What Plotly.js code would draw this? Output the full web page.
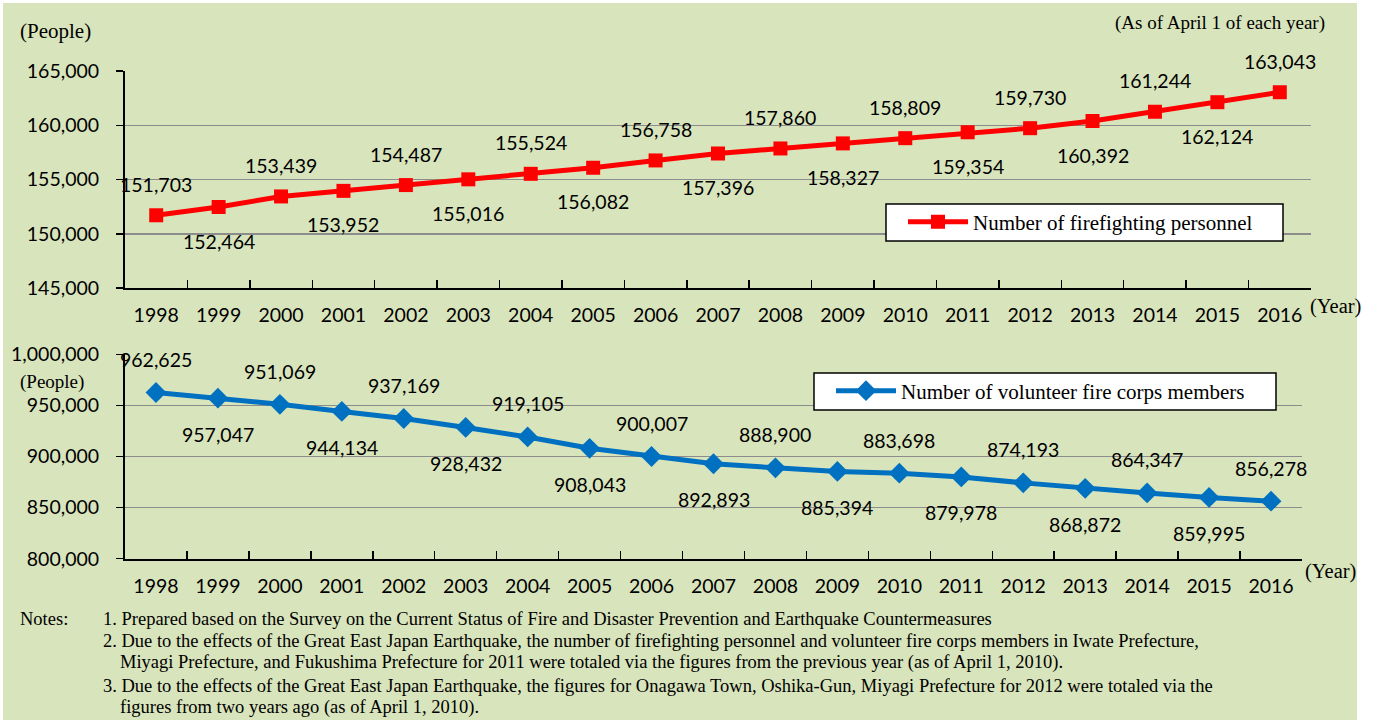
<!DOCTYPE html>
<html>
<head>
<meta charset="utf-8">
<script src="https://cdn.plot.ly/plotly-3.0.1.min.js"></script>
<style>html,body{margin:0;padding:0;background:#fff;}#chart{width:1374px;height:720px;}</style>
</head>
<body>
<div id="chart"></div>
<script>
const years = ["1998","1999","2000","2001","2002","2003","2004","2005","2006","2007","2008","2009","2010","2011","2012","2013","2014","2015","2016"];
const firefighters = [151703,152464,153439,153952,154487,155016,155524,156082,156758,157396,157860,158327,158809,159354,159730,160392,161244,162124,163043];
const volunteers = [962625,957047,951069,944134,937169,928432,919105,908043,900007,892893,888900,885394,883698,879978,874193,868872,864347,859995,856278];
const firefighterName = "Number of firefighting personnel";
const volunteerName = "Number of volunteer fire corps members";
const notes = [
  "Notes:",
  "1. Prepared based on the Survey on the Current Status of Fire and Disaster Prevention and Earthquake Countermeasures",
  "2. Due to the effects of the Great East Japan Earthquake, the number of firefighting personnel and volunteer fire corps members in Iwate Prefecture,",
  "Miyagi Prefecture, and Fukushima Prefecture for 2011 were totaled via the figures from the previous year (as of April 1, 2010).",
  "3. Due to the effects of the Great East Japan Earthquake, the figures for Onagawa Town, Oshika-Gun, Miyagi Prefecture for 2012 were totaled via the",
  "figures from two years ago (as of April 1, 2010)."
];

const W = 1374, H = 720;
const px = v => v / W;
const py = v => 1 - v / H;
const SANS = "Lato, 'Open Sans', sans-serif";
const SERIF = "'Liberation Serif', 'DejaVu Serif', serif";
const fmt = v => v.toLocaleString('en-US');
const NUM = 19.5;

const traces = [
  {x: years, y: firefighters, xaxis: 'x', yaxis: 'y', type: 'scatter', mode: 'lines+markers',
   name: firefighterName, legend: 'legend',
   line: {color: '#FF0000', width: 5}, marker: {symbol: 'square', size: 14, color: '#FF0000'}},
  {x: years, y: volunteers, xaxis: 'x2', yaxis: 'y2', type: 'scatter', mode: 'lines+markers',
   name: volunteerName, legend: 'legend2',
   line: {color: '#0070C0', width: 5}, marker: {symbol: 'diamond', size: 16, color: '#0070C0'}}
];

const annotations = [];
firefighters.forEach((v, i) => {
  const up = i % 2 === 0;
  annotations.push({x: i, y: v, xref: 'x', yref: 'y', text: fmt(v), showarrow: false,
    yshift: up ? 31 : -34, font: {family: SANS, size: NUM, color: '#000'}});
});
volunteers.forEach((v, i) => {
  const up = i % 2 === 0;
  annotations.push({x: i, y: v, xref: 'x2', yref: 'y2', text: fmt(v), showarrow: false,
    yshift: up ? 33 : -36, font: {family: SANS, size: NUM, color: '#000'}});
});
const txt = (t, x, y, size, anchor) => ({text: t, x: px(x), y: py(y), xref: 'paper', yref: 'paper',
  showarrow: false, xanchor: anchor || 'left', yanchor: 'middle', font: {family: SERIF, size: size, color: '#000'}});
annotations.push(txt("(People)", 18, 31, 21));
annotations.push(txt("(People)", 18, 382, 19));
annotations.push(txt("(As of April 1 of each year)", 1327, 23, 19, 'right'));
annotations.push(txt("(Year)", 1308, 306, 20.5));
annotations.push(txt("(Year)", 1303, 571, 20.5));
annotations.push(txt(notes[0], 18, 619, 18.5));
annotations.push(txt(notes[1], 101, 619, 18.5));
annotations.push(txt(notes[2], 101, 641, 18.5));
annotations.push(txt(notes[3], 118, 662, 18.5));
annotations.push(txt(notes[4], 101, 686, 18.5));
annotations.push(txt(notes[5], 118, 707, 18.5));

const shapes = [
  {type: 'rect', xref: 'paper', yref: 'paper', x0: px(3), x1: px(1357), y0: 0, y1: py(3),
   fillcolor: '#D8E4BC', line: {width: 0}, layer: 'below'},
  {type: 'rect', xref: 'paper', yref: 'paper', x0: px(886), x1: px(1283), y0: py(241), y1: py(204),
   fillcolor: '#FFFFFF', line: {color: '#000', width: 1.5}, layer: 'above'},
  {type: 'rect', xref: 'paper', yref: 'paper', x0: px(814), x1: px(1276), y0: py(410), y1: py(373),
   fillcolor: '#FFFFFF', line: {color: '#000', width: 1.5}, layer: 'above'}
];

const xaxisBase = {type: 'category', range: [-0.5, years.length - 0.5], autorange: false,
  showline: true, linecolor: '#000', linewidth: 2,
  ticks: 'inside', tickson: 'boundaries', ticklen: 8, tickwidth: 1.5, tickcolor: '#000',
  showgrid: false, tickfont: {family: SANS, size: NUM, color: '#000'}, ticklabelstandoff: 9,
  tickangle: 0, fixedrange: true};
const yaxisBase = {showline: true, linecolor: '#000', linewidth: 2, ticks: 'outside', ticklen: 7,
  tickwidth: 1.5, tickcolor: '#000', showgrid: true, gridcolor: '#8C8C8C', gridwidth: 1.5,
  tickformat: ',', tickfont: {family: SANS, size: NUM, color: '#000'}, ticklabelstandoff: 13,
  zeroline: false, fixedrange: true};

const layout = {
  width: W, height: H, margin: {l: 0, r: 0, t: 0, b: 0},
  paper_bgcolor: '#FFFFFF', plot_bgcolor: '#FFFFCC', showlegend: true,
  xaxis: Object.assign({}, xaxisBase, {domain: [px(125), px(1311)], anchor: 'y'}),
  yaxis: Object.assign({}, yaxisBase, {domain: [py(288), py(71)], anchor: 'x', range: [145000, 165000], dtick: 5000}),
  xaxis2: Object.assign({}, xaxisBase, {domain: [px(125), px(1302)], anchor: 'y2'}),
  yaxis2: Object.assign({}, yaxisBase, {domain: [py(558.7), py(354.3)], anchor: 'x2', range: [800000, 1000000], dtick: 50000}),
  legend: {x: px(903), y: py(222), xanchor: 'left', yanchor: 'middle', bgcolor: 'rgba(0,0,0,0)', borderwidth: 0,
    font: {family: SERIF, size: 21, color: '#000'}, itemwidth: 60},
  legend2: {x: px(831), y: py(391), xanchor: 'left', yanchor: 'middle', bgcolor: 'rgba(0,0,0,0)', borderwidth: 0,
    font: {family: SERIF, size: 21, color: '#000'}, itemwidth: 60},
  annotations: annotations,
  shapes: shapes
};

Plotly.newPlot('chart', traces, layout, {displayModeBar: false, staticPlot: true});
</script>
</body>
</html>
